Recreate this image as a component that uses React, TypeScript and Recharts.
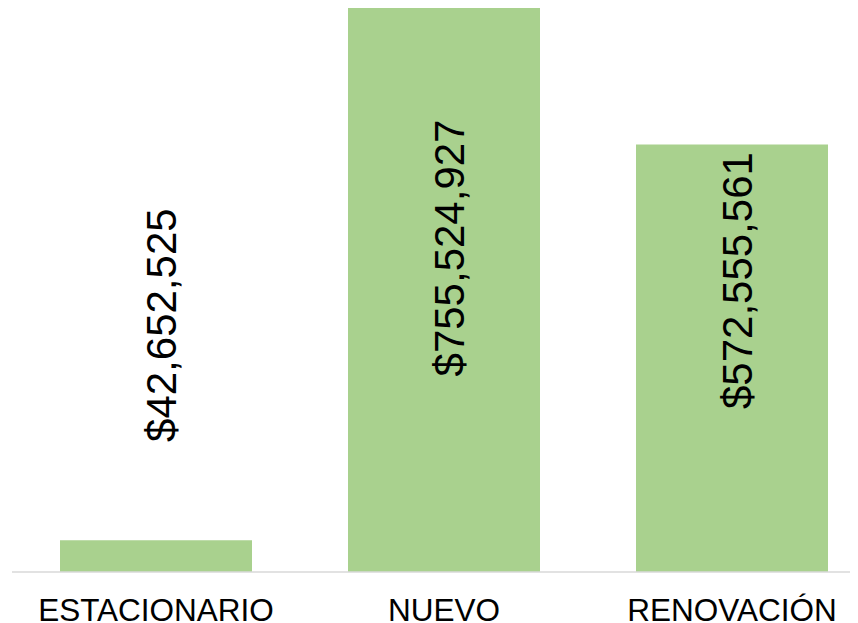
import { BarChart, Bar, XAxis, YAxis, LabelList } from 'recharts';

const categories = ['ESTACIONARIO', 'NUEVO', 'RENOVACIÓN'];
const amounts = [42652525, 755524927, 572555561];

// label placement (centre of rotated text, measured from the top of each bar)
const labelOffsets = [-215, 240, 136];

const data = categories.map((name, i) => ({ name, amount: amounts[i] }));

const FONT = '"Liberation Sans", Arial, sans-serif';

const formatMoney = (v: number) => '$' + v.toLocaleString('en-US');

const CategoryTick = (props: any) => {
    const { x, y, payload } = props;
    return (
        <text x={x} y={y + 49} textAnchor="middle" fontFamily={FONT} fontSize={31.5} fill="#000">
            {payload.value}
        </text>
    );
};

const ValueLabel = (props: any) => {
    const { x, y, width, value, index } = props;
    const cx = x + width / 2 + 20;
    const cy = y + labelOffsets[index];
    return (
        <text
            x={cx}
            y={cy}
            transform={`rotate(-90, ${cx}, ${cy})`}
            textAnchor="middle"
            fontFamily={FONT}
            fontSize={42}
            fill="#000"
        >
            {formatMoney(value)}
        </text>
    );
};

export default function App() {
    return (
        <div style={{ width: 850, height: 615, overflow: 'hidden' }}>
            <BarChart
                width={868}
                height={615}
                data={data}
                margin={{ top: 0, right: 0, left: 4, bottom: 0 }}
                barCategoryGap="16.6667%"
            >
                <XAxis
                    dataKey="name"
                    axisLine={{ stroke: '#D9D9D9', strokeWidth: 1.5 }}
                    tickLine={false}
                    tickSize={0}
                    tickMargin={0}
                    height={51}
                    interval={0}
                    tick={<CategoryTick />}
                />
                <YAxis hide domain={[0, 'dataMax']} />
                <Bar dataKey="amount" fill="#A9D18E" isAnimationActive={false}>
                    <LabelList dataKey="amount" content={<ValueLabel />} />
                </Bar>
            </BarChart>
        </div>
    );
}
